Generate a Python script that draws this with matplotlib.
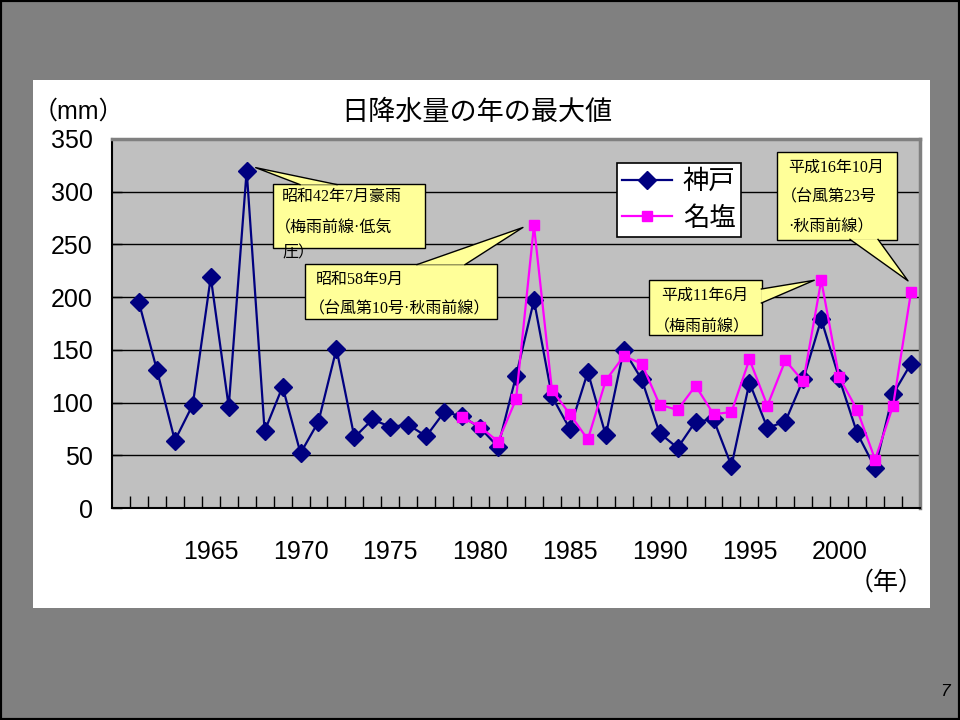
import numpy as np
import matplotlib.pyplot as plt
from matplotlib.patches import Rectangle, Polygon
from matplotlib.lines import Line2D

plt.rcParams['font.family'] = ['Liberation Sans', 'Noto Sans CJK JP']

years_kobe = list(range(1961, 2005))
kobe = [195, 131, 64, 98, 219, 96, 320, 73, 115, 52,
        82, 151, 67, 84, 77, 79, 68, 91, 87, 76,
        58, 125, 197, 106, 75, 129, 69, 150, 122, 71,
        57, 82, 84, 40, 119, 76, 82, 122, 179, 123,
        71, 38, 108, 137]

years_nashio = list(range(1979, 2005))
nashio = [86, 77, 63, 103, 268, 112, 89, 65, 121, 144,
          137, 98, 93, 116, 89, 91, 141, 97, 140, 120,
          216, 124, 93, 46, 97, 205]

year_ticks = [1965, 1970, 1975, 1980, 1985, 1990, 1995, 2000]
value_ticks = [0, 50, 100, 150, 200, 250, 300, 350]

W, H = 960, 720
NAVY = '#000080'
MAGENTA = '#FF00FF'
YELLOW = '#FFFF99'
CJK = ['Noto Sans CJK JP']
NOTE_FONT = ['Liberation Serif', 'Noto Sans CJK JP']


def fx(px):
    return px / W


def fy(py):
    return 1 - py / H


fig = plt.figure(figsize=(9.6, 7.2), dpi=100)
fig.patch.set_facecolor('#808080')
fig.patches.append(Rectangle((0, 0), 1, 1, transform=fig.transFigure,
                             fill=False, edgecolor='black', linewidth=3, zorder=-2))
fig.patches.append(Rectangle((fx(33), fy(608)), fx(930) - fx(33), fy(80) - fy(608),
                             transform=fig.transFigure, facecolor='white',
                             edgecolor='none', zorder=-1))

ax = fig.add_axes([fx(112), fy(508), fx(920) - fx(112), fy(139) - fy(508)])
ax.set_zorder(1)
ax.set_facecolor('#C0C0C0')

ax.plot(years_kobe, kobe, color=NAVY, lw=1.6, marker='D', ms=9,
        mfc=NAVY, mec=NAVY, zorder=3)
ax.plot(years_nashio, nashio, color=MAGENTA, lw=1.6, marker='s', ms=7.5,
        mfc=MAGENTA, mec=MAGENTA, zorder=4)

ax.set_xlim(1959.5, 2004.5)
ax.set_ylim(0, 350)
ax.set_yticks(value_ticks)
ax.set_yticklabels([str(v) for v in value_ticks], fontsize=18)
ax.set_xticks(year_ticks)
ax.set_xticklabels([str(y) for y in year_ticks], fontsize=18)
ax.set_xticks(np.arange(1960.5, 2004.5, 1), minor=True)
ax.tick_params(axis='x', which='major', length=0, pad=23)
ax.tick_params(axis='x', which='minor', direction='in', length=9, width=1, color='black')
ax.tick_params(axis='y', direction='in', length=7, width=1, pad=14)
ax.yaxis.grid(True, color='black', lw=1)
ax.set_axisbelow(True)

for side in ['left', 'bottom']:
    ax.spines[side].set_color('black')
    ax.spines[side].set_linewidth(1.5)
for side in ['top', 'right']:
    ax.spines[side].set_color('#808080')
    ax.spines[side].set_linewidth(2.5)

fig.text(fx(477), fy(112), '日降水量の年の最大値', fontsize=19.5, family=CJK,
         ha='center', va='center')
fig.text(fx(33), fy(112), '（mm）', fontsize=18, family=['Liberation Sans', 'Noto Sans CJK JP'],
         ha='left', va='center')
fig.text(fx(924), fy(583), '（年）', fontsize=18, family=['Liberation Sans', 'Noto Sans CJK JP'],
         ha='right', va='center')
fig.text(fx(950), fy(692), '7', fontsize=12.5, style='italic', ha='right', va='center')

handles = [Line2D([], [], color=NAVY, lw=1.6, marker='D', ms=9),
           Line2D([], [], color=MAGENTA, lw=1.6, marker='s', ms=7.5)]
leg = fig.legend(handles, ['神戸', '名塩'], loc='upper left',
                 bbox_to_anchor=(fx(617), fy(163)), prop={'family': CJK, 'size': 19},
                 frameon=True, fancybox=False, framealpha=1, edgecolor='black',
                 handlelength=1.9, handletextpad=0.4, labelspacing=0.35,
                 borderpad=0.2, borderaxespad=0)
leg.get_frame().set_linewidth(1.2)
leg.set_zorder(5)


def callout(box, lines, line_ys, text_x, point, offset, base):
    x0, y0, x1, y1 = box
    px, py = ax.transData.transform(point)
    tip = (px + offset[0], H - py + offset[1])
    fig.patches.append(Rectangle((fx(x0), fy(y1)), fx(x1) - fx(x0), fy(y0) - fy(y1),
                                 transform=fig.transFigure, facecolor=YELLOW,
                                 edgecolor='black', linewidth=1, zorder=5))
    a, b = base
    pts = [(fx(a[0]), fy(a[1])), (fx(tip[0]), fy(tip[1])), (fx(b[0]), fy(b[1]))]
    fig.patches.append(Polygon(pts, closed=True, transform=fig.transFigure,
                               facecolor=YELLOW, edgecolor='none', zorder=6))
    fig.lines.append(Line2D([pts[0][0], pts[1][0], pts[2][0]],
                            [pts[0][1], pts[1][1], pts[2][1]],
                            transform=fig.transFigure, color='black', lw=1, zorder=7))
    for txt, ty in zip(lines, line_ys):
        # fullwidth brackets carry blank space on their outer side
        shift = -7 if txt.startswith('（') else 0
        fig.text(fx(text_x + shift), fy(ty), txt, fontsize=11.5, family=NOTE_FONT,
                 ha='left', va='center', zorder=8)


callout((273, 184, 425, 248), ['昭和42年7月豪雨', '（梅雨前線·低気', '圧）'],
        [197, 228, 253], 282, (1967, 320), (9, -3), ((300, 184.6), (337, 184.6)))
callout((305, 264, 497, 319), ['昭和58年9月', '（台風第10号·秋雨前線）'],
        [280, 309], 316, (1983, 268), (-11, 2), ((417, 264.6), (465, 264.6)))
callout((649, 280, 762, 335), ['平成11年6月', '（梅雨前線）'],
        [296, 327], 661, (1999, 216), (-7, 0), ((761.4, 289), (761.4, 303)))
callout((777, 152, 897, 240), ['平成16年10月', '（台風第23号', '·秋雨前線）'],
        [168, 197, 227], 788, (2004, 205), (-3, -11), ((850, 239.4), (878, 239.4)))

fig.savefig('out.png', dpi=100, facecolor=fig.get_facecolor())
